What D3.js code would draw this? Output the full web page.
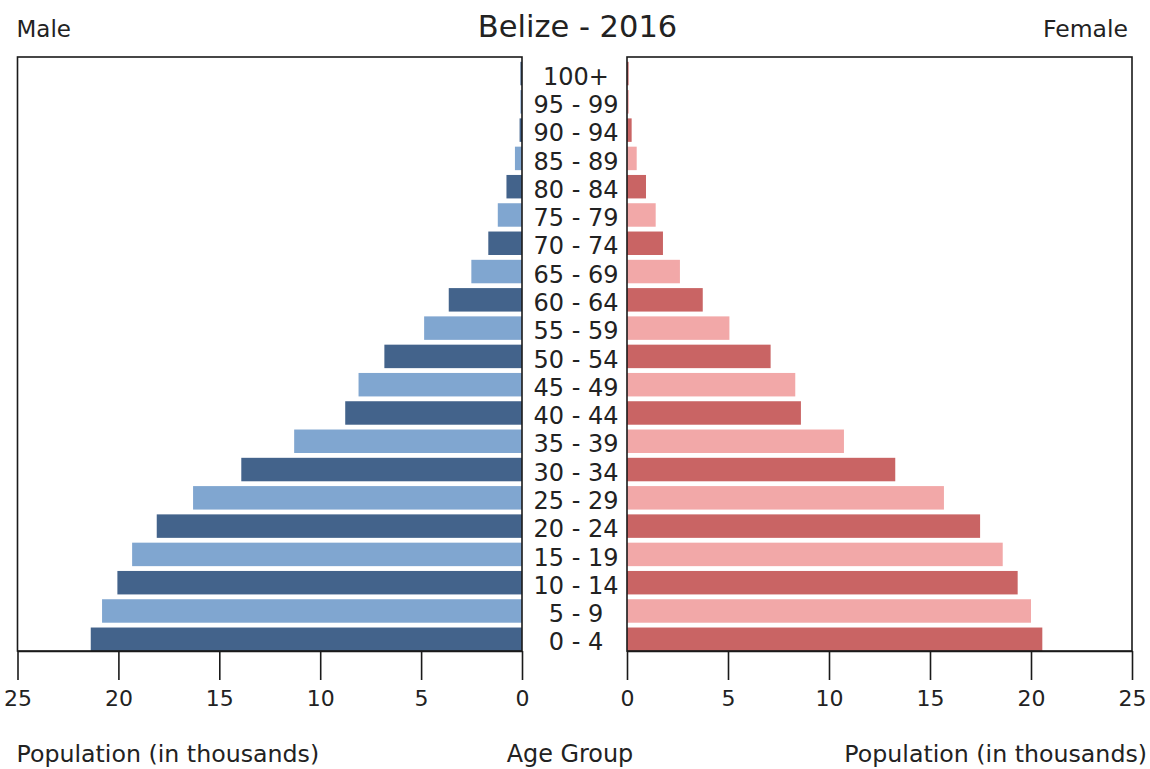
<!DOCTYPE html>
<html>
<head>
<meta charset="utf-8">
<script src="https://cdn.jsdelivr.net/npm/d3@7"></script>
<style>
  html, body { margin: 0; padding: 0; background: #fff; }
  svg { display: block; font-family: "DejaVu Sans", sans-serif; }
</style>
</head>
<body>
<svg id="chart" width="1150" height="769"></svg>
<script>
const ageGroups = ["0 - 4","5 - 9","10 - 14","15 - 19","20 - 24","25 - 29","30 - 34","35 - 39","40 - 44","45 - 49","50 - 54","55 - 59","60 - 64","65 - 69","70 - 74","75 - 79","80 - 84","85 - 89","90 - 94","95 - 99","100+"];
const maleValues = [21.37, 20.81, 20.05, 19.32, 18.1, 16.3, 13.91, 11.29, 8.76, 8.1, 6.82, 4.85, 3.63, 2.51, 1.67, 1.2, 0.77, 0.35, 0.12, 0.08, 0.08];
const femaleValues = [20.56, 20.0, 19.34, 18.6, 17.48, 15.69, 13.28, 10.74, 8.61, 8.33, 7.11, 5.07, 3.75, 2.62, 1.78, 1.42, 0.94, 0.48, 0.23, 0.09, 0.08];
const tickValues = [0, 5, 10, 15, 20, 25];
const chartTitle = "Belize - 2016";

(function () {
const svg = d3.select("#chart");
const plotTop = 57, plotBottom = 651;
const mL = 17.5, mR = 522, fL = 627, fR = 1132;

const xMale = d3.scaleLinear().domain([0, 25]).range([mR, mL]);
const xFemale = d3.scaleLinear().domain([0, 25]).range([fL, fR]);
const y = d3.scaleBand().domain(ageGroups.slice().reverse()).range([plotTop, plotBottom]).padding(0);
const step = y.step();
const gap = step * 0.17;
const barH = step - gap;

const maleColors = ["#43638b", "#80a6d0"];
const femaleColors = ["#c96464", "#f2a8a8"];

const data = ageGroups.map((a, i) => ({ age: a, i, m: maleValues[i], f: femaleValues[i] }));

svg.append("g").selectAll("rect").data(data).join("rect")
  .attr("x", d => xMale(d.m))
  .attr("y", d => y(d.age) + gap)
  .attr("width", d => xMale(0) - xMale(d.m))
  .attr("height", barH)
  .attr("fill", d => maleColors[d.i % 2]);

svg.append("g").selectAll("rect").data(data).join("rect")
  .attr("x", xFemale(0))
  .attr("y", d => y(d.age) + gap)
  .attr("width", d => xFemale(d.f) - xFemale(0))
  .attr("height", barH)
  .attr("fill", d => femaleColors[d.i % 2]);

const frame = (x0, x1) => svg.append("rect")
  .attr("x", x0).attr("y", plotTop).attr("width", x1 - x0).attr("height", plotBottom - plotTop)
  .attr("fill", "none").attr("stroke", "#1a1a1a").attr("stroke-width", 1.6);
frame(mL, mR);
frame(fL, fR);

function styleAxis(g) {
  g.select(".domain").attr("stroke", "#1a1a1a").attr("stroke-width", 1.6);
  g.selectAll(".tick line").attr("stroke", "#1a1a1a").attr("stroke-width", 1.6);
  g.selectAll(".tick text").attr("fill", "#222").attr("font-size", 22);
  g.attr("font-family", null);
}
svg.append("g").attr("transform", `translate(0,${plotBottom})`)
  .call(d3.axisBottom(xMale).tickValues(tickValues).tickSize(29).tickSizeOuter(0).tickPadding(10).tickFormat(d3.format("d")))
  .call(styleAxis);
svg.append("g").attr("transform", `translate(0,${plotBottom})`)
  .call(d3.axisBottom(xFemale).tickValues(tickValues).tickSize(29).tickSizeOuter(0).tickPadding(10).tickFormat(d3.format("d")))
  .call(styleAxis);

svg.append("g").selectAll("text").data(data).join("text")
  .attr("x", (mR + fL) / 2 + 1.5)
  .attr("y", d => y(d.age) + gap + barH / 2 + 2.5)
  .attr("dy", "0.36em")
  .attr("text-anchor", "middle")
  .attr("font-size", 24)
  .attr("fill", "#222")
  .text(d => d.age);

svg.append("text").attr("x", 577.5).attr("y", 37).attr("text-anchor", "middle")
  .attr("font-size", 30.5).attr("fill", "#222").text(chartTitle);
svg.append("text").attr("x", 16.5).attr("y", 37).attr("font-size", 23).attr("fill", "#222").text("Male");
svg.append("text").attr("x", 1128).attr("y", 37).attr("text-anchor", "end").attr("font-size", 23.5).attr("fill", "#222").text("Female");

svg.append("text").attr("x", 16.5).attr("y", 762).attr("font-size", 23.7).attr("fill", "#222").text("Population (in thousands)");
svg.append("text").attr("x", 570).attr("y", 762).attr("text-anchor", "middle").attr("font-size", 23.9).attr("fill", "#222").text("Age Group");
svg.append("text").attr("x", 1147).attr("y", 762).attr("text-anchor", "end").attr("font-size", 23.7).attr("fill", "#222").text("Population (in thousands)");
})();
</script>
</body>
</html>
